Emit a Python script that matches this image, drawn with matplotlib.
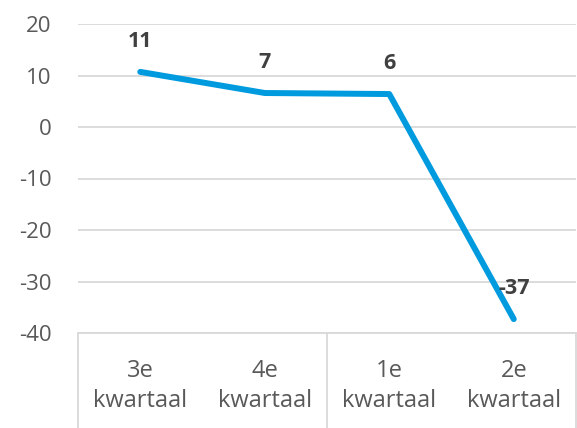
import matplotlib
matplotlib.use("Agg")
import matplotlib.pyplot as plt

# data
categories = ["3e\nkwartaal", "4e\nkwartaal", "1e\nkwartaal", "2e\nkwartaal"]
values = [10.7, 6.6, 6.4, -37.3]
labels = ["11", "7", "6", "-37"]
yticks = [-40, -30, -20, -10, 0, 10, 20]

plt.rcParams["font.family"] = ["Open Sans", "DejaVu Sans"]

W, H = 577, 428
fig = plt.figure(figsize=(W / 100, H / 100), dpi=100)
left, right, top, bottom = 78, 576, 24, 333
ax = fig.add_axes([left / W, 1 - bottom / H, (right - left) / W, (bottom - top) / H])

x = list(range(len(values)))
ax.plot(x, values, color="#009BDE", linewidth=4.3, solid_capstyle="round", zorder=3)

for xi, v, lab in zip(x, values, labels):
    ax.annotate(lab, (xi, v), xytext=(0, 22), textcoords="offset points",
                ha="center", va="center", fontsize=15.5, fontweight="bold", color="#404040")

ax.set_xlim(-0.5, len(values) - 0.5)
ax.set_ylim(-40, 20)
ax.set_yticks(yticks)
ax.set_yticklabels([str(t) for t in yticks], fontsize=16, color="#595959")
ax.set_xticks(x)
ax.set_xticklabels(categories, fontsize=17, color="#595959", linespacing=1.3)
ax.tick_params(axis="both", length=0)
ax.tick_params(axis="y", pad=19)
ax.tick_params(axis="x", pad=19)

ax.grid(axis="y", color="#D9D9D9", linewidth=1.3)
for s in ["top", "right", "left"]:
    ax.spines[s].set_visible(False)
ax.spines["bottom"].set_color("#D9D9D9")
ax.spines["bottom"].set_linewidth(1.3)

# category group separators below the axis
depth = (H - bottom) / (bottom - top)
for xs in [0, 0.5, 1]:
    ax.plot([xs, xs], [0, -depth], transform=ax.transAxes, color="#D9D9D9",
            linewidth=1.3, clip_on=False)

fig.savefig("out.png", dpi=100)
